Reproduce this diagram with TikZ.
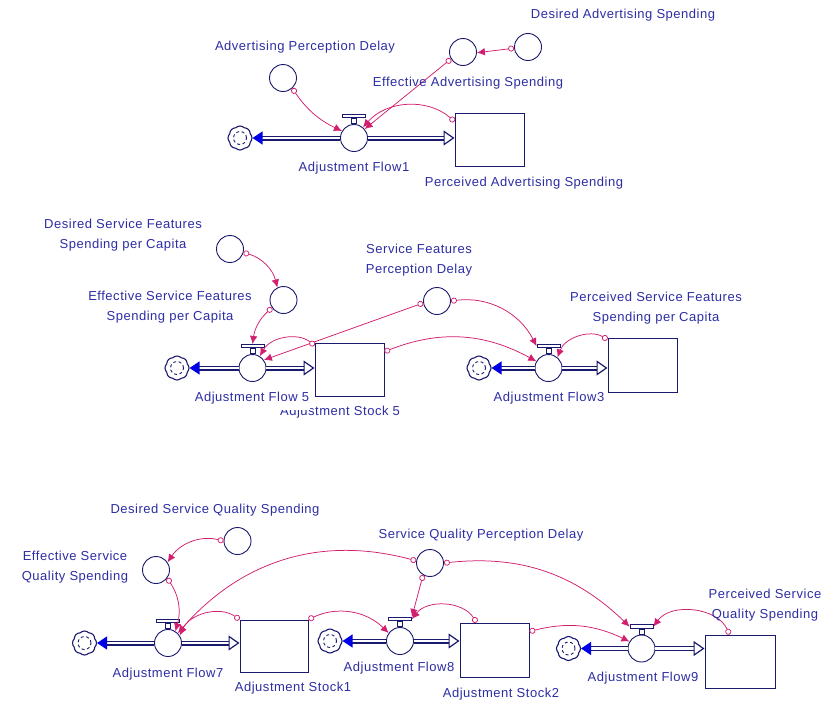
\documentclass[tikz,border=0pt]{standalone}
\usepackage{fontspec}
\setmainfont{Liberation Sans}[LetterSpace=4]
\usetikzlibrary{arrows.meta,shapes.symbols,calc}
\definecolor{navy}{RGB}{25,25,110}
\definecolor{txt}{RGB}{45,45,165}
\definecolor{lnk}{RGB}{210,30,110}
\definecolor{flowblue}{RGB}{0,0,230}
\tikzset{
  lbl/.style={text=txt,font=\fontsize{13}{20}\selectfont,inner sep=1pt,align=center},
  aux/.style={circle,draw=navy,line width=0.9pt,minimum size=27pt,inner sep=0pt,fill=white},
  valvec/.style={circle,draw=navy,line width=0.9pt,minimum size=27pt,inner sep=0pt,fill=white},
  valvestem/.style={rectangle,draw=navy,line width=0.8pt,minimum width=5pt,minimum height=5pt,inner sep=0pt,fill=white},
  valvebar/.style={rectangle,draw=navy,line width=0.8pt,minimum width=23pt,minimum height=3.5pt,inner sep=0pt,fill=white},
  stock/.style={rectangle,draw=navy,line width=1pt,inner sep=0pt,fill=white},
  sink/.style={cloud,cloud puffs=8,cloud puff arc=90,aspect=1,draw=navy,line width=1.1pt,minimum width=24pt,minimum height=24pt,inner sep=0pt,fill=white,
    path picture={\draw[navy,line width=0.9pt,dash pattern=on 3pt off 2.5pt](path picture bounding box.center) circle (6.5pt);}},
  pipe/.style={draw=navy,line width=1.2pt,double=white,double distance=2.6pt},
  outtip/.style={{Triangle[length=10pt,width=13pt,color=flowblue,fill=flowblue]}-},
  intip/.style={-{Triangle[open,length=11pt,width=15pt,fill=white]}},
  link/.style={draw=lnk,line width=0.75pt,{Circle[open,length=6pt,width=6pt,fill=white]}-{Latex[length=8pt,width=7.5pt]}},
}
\newcommand\mkvalve[2]{%
  \node[valvec] (#1) at (#2) {};
  \node[valvestem,anchor=south] (#1s) at (#1.north) {};
  \node[valvebar,anchor=south] (#1b) at (#1s.north) {};
}
\begin{document}
\begin{tikzpicture}[x=1pt,y=-1pt]
\useasboundingbox[fill=white] (0,0) rectangle (829,702);

% ---------- top section ----------
\node[sink] (c1) at (240,138) {};
\mkvalve{v1}{354,138}
\node[stock,minimum width=69pt,minimum height=53pt] (s1) at (489.5,139.5) {};
\node[aux] (apd) at (283,78) {};
\node[aux] (eas) at (463,52) {};
\node[aux] (das) at (528,47) {};
\draw[pipe,outtip] (c1) -- (v1);
\draw[pipe,intip] (v1) -- (v1 -| s1.west);
\draw[link] (apd.-48) to[bend right=15] (v1.150);
\draw[link] (eas.210) -- (v1.40);
\draw[link] ([yshift=-9pt]s1.north west) to[bend right=45] (v1.50);
\draw[link] (das.185) -- (eas.-3);
\node[lbl] (l1) at (623,15) {Desired Advertising Spending};
\node[lbl] (l2) at (305,47) {Advertising Perception Delay};
\node[lbl] (l3) at (468,83) {Effective Advertising Spending};
\node[lbl] (l4) at (354,168) {Adjustment Flow1};
\node[lbl] (l5) at (524,183) {Perceived Advertising Spending};

% ---------- middle section ----------
\node[sink] (c5) at (177,368) {};
\mkvalve{v5}{252.5,368}
\node[stock,minimum width=69pt,minimum height=53pt] (s5) at (349.5,369.5) {};
\node[sink] (c3) at (479,368) {};
\mkvalve{v3}{548.5,368}
\node[stock,minimum width=69pt,minimum height=54pt] (s3) at (642.5,365) {};
\node[aux] (dsf) at (230,249) {};
\node[aux] (esf) at (283.5,300) {};
\node[aux] (sfpd) at (437,301) {};
\draw[pipe,outtip] (c5) -- (v5);
\draw[pipe,intip] (v5) -- (v5 -| s5.west);
\draw[pipe,outtip] (c3) -- (v3);
\draw[pipe,intip] (v3) -- (v3 -| s3.west);
\draw[link] (dsf.-15) to[bend left=30] (esf.116);
\draw[link] (esf.214) to[bend right=20] (v5b.north);
\draw[link] (sfpd.188) -- (v5.35);
\draw[link] ([yshift=-3pt]s5.north west) to[bend right=50] (v5.58);
\draw[link] (s5.27) to[bend left=25] (v3.151);
\draw[link] (sfpd.east) to[bend left=35] (v3b.west);
\draw[link] ([yshift=-2pt]s3.north west) to[bend right=50] (v3.50);
\node[lbl] (m1) at (123,235.5) {Desired Service Features\\Spending per Capita};
\node[lbl] (m2) at (170,307.5) {Effective Service Features\\Spending per Capita};
\node[lbl] (m3) at (419,260) {Service Features\\Perception Delay};
\node[lbl] (m4) at (656,308) {Perceived Service Features\\Spending per Capita};
\node[lbl] (m6) at (340,412) {Adjustment Stock 5};
\node[lbl,fill=white,inner xsep=1pt,minimum height=23pt] (m5) at (252,398) {Adjustment Flow 5};
\node[lbl] (m7) at (549,398) {Adjustment Flow3};

% ---------- bottom section ----------
\node[sink] (c7) at (84.5,643) {};
\mkvalve{v7}{168,643}
\node[stock,minimum width=68pt,minimum height=52pt] (b1) at (274,646) {};
\node[sink] (c8) at (330,641) {};
\mkvalve{v8}{400,641}
\node[stock,minimum width=69pt,minimum height=54pt] (b2) at (494.5,650) {};
\node[sink] (c9) at (568.5,648.5) {};
\mkvalve{v9}{641.5,648.5}
\node[stock,minimum width=70pt,minimum height=53pt] (b3) at (740,661.5) {};
\node[aux] (dsq) at (237.5,541) {};
\node[aux] (esq) at (156,570) {};
\node[aux] (sqpd) at (430,563) {};
\draw[pipe,outtip] (c7) -- (v7);
\draw[pipe,intip] (v7) -- (v7 -| b1.west);
\draw[pipe,outtip] (c8) -- (v8);
\draw[pipe,intip] (v8) -- (v8 -| b2.west);
\draw[pipe,outtip] (c9) -- (v9);
\draw[pipe,intip] (v9) -- (v9 -| b3.west);
\draw[link] (dsq.west) to[bend right=35] (esq.34);
\draw[link] (esq.-36) to[bend left=25] (v7.58);
\draw[link] (sqpd.171) to[bend right=32] (v7.45);
\draw[link] (b1.north west) to[bend right=50] (v7.33);
\draw[link] (b1.north east) to[bend left=35] (v8.145);
\draw[link] (sqpd.240) -- (v8b.north east);
\draw[link] ([xshift=17pt]b2.north west) to[bend right=55] (v8b.east);
\draw[link] (sqpd.east) to[bend left=25] (v9b.west);
\draw[link] ([yshift=-9pt]b2.north east) to[bend left=20] (v9.150);
\draw[link] ([xshift=25pt]b3.north west) to[bend right=60] (v9b.east);
\node[lbl] (n1) at (215,510) {Desired Service Quality Spending};
\node[lbl] (n2) at (75,567.5) {Effective Service\\Quality Spending};
\node[lbl] (n3) at (481,535) {Service Quality Perception Delay};
\node[lbl] (n4) at (765,605) {Perceived Service\\Quality Spending};
\node[lbl] (n5) at (168,674) {Adjustment Flow7};
\node[lbl] (n6) at (293,688) {Adjustment Stock1};
\node[lbl] (n7) at (399,668) {Adjustment Flow8};
\node[lbl] (n8) at (501,694) {Adjustment Stock2};
\node[lbl] (n9) at (643,678) {Adjustment Flow9};
\end{tikzpicture}
\end{document}
